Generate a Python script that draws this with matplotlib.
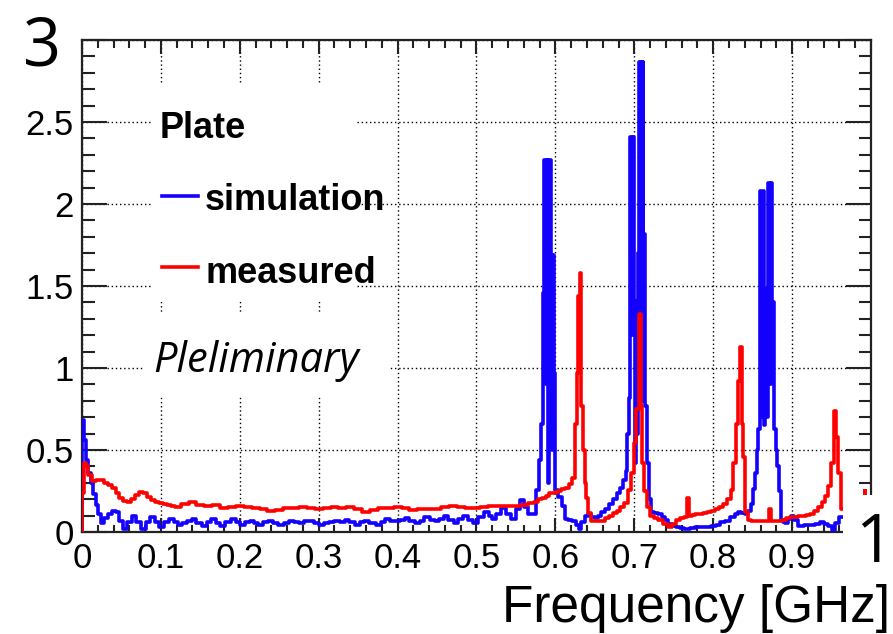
import matplotlib
matplotlib.use("Agg")
import matplotlib.pyplot as plt
from matplotlib.patches import Rectangle
from matplotlib.ticker import MultipleLocator

# measured (red) spectrum: frequency [GHz] and amplitude
meas_freq = [0.000, 0.001, 0.003, 0.006, 0.010, 0.015, 0.020, 0.025, 0.030, 0.035,
             0.040, 0.045, 0.050, 0.055, 0.060, 0.065, 0.070, 0.075, 0.080, 0.085,
             0.090, 0.095, 0.100, 0.105, 0.110, 0.115, 0.120, 0.130, 0.140, 0.150,
             0.160, 0.170, 0.180, 0.190, 0.200, 0.210, 0.220, 0.230, 0.240, 0.250,
             0.260, 0.270, 0.280, 0.290, 0.300, 0.310, 0.320, 0.330, 0.340, 0.350,
             0.360, 0.370, 0.380, 0.390, 0.400, 0.410, 0.420, 0.430, 0.440, 0.450,
             0.460, 0.470, 0.480, 0.490, 0.500, 0.510, 0.520, 0.530, 0.540, 0.550,
             0.560, 0.570, 0.575, 0.580, 0.585, 0.590, 0.595, 0.600, 0.605, 0.610,
             0.615, 0.620, 0.623, 0.626, 0.628, 0.630, 0.632, 0.634, 0.636, 0.638,
             0.640, 0.643, 0.646, 0.650, 0.655, 0.660, 0.665, 0.670, 0.675, 0.680,
             0.685, 0.690, 0.694, 0.698, 0.701, 0.704, 0.707, 0.709, 0.711, 0.714,
             0.718, 0.722, 0.727, 0.733, 0.740, 0.745, 0.750, 0.755, 0.760, 0.765,
             0.768, 0.771, 0.775, 0.780, 0.785, 0.790, 0.795, 0.800, 0.805, 0.810,
             0.815, 0.820, 0.824, 0.827, 0.830, 0.833, 0.835, 0.837, 0.839, 0.842,
             0.845, 0.850, 0.855, 0.860, 0.865, 0.870, 0.872, 0.875, 0.880, 0.885,
             0.890, 0.895, 0.900, 0.905, 0.910, 0.915, 0.920, 0.925, 0.930, 0.935,
             0.940, 0.944, 0.948, 0.951, 0.954, 0.957, 0.960, 0.963]
meas_vals = [0.00, 0.24, 0.42, 0.40, 0.35, 0.31, 0.32, 0.32, 0.30, 0.285,
             0.27, 0.24, 0.21, 0.19, 0.185, 0.20, 0.225, 0.245, 0.235, 0.215,
             0.195, 0.185, 0.175, 0.17, 0.165, 0.16, 0.155, 0.17, 0.185, 0.165,
             0.16, 0.165, 0.145, 0.15, 0.16, 0.15, 0.145, 0.14, 0.13, 0.135,
             0.145, 0.145, 0.155, 0.145, 0.14, 0.145, 0.15, 0.145, 0.15, 0.14,
             0.125, 0.135, 0.145, 0.145, 0.15, 0.145, 0.135, 0.14, 0.14, 0.14,
             0.155, 0.16, 0.155, 0.145, 0.145, 0.15, 0.16, 0.16, 0.16, 0.16,
             0.165, 0.175, 0.185, 0.20, 0.21, 0.22, 0.235, 0.24, 0.25, 0.26,
             0.27, 0.29, 0.33, 0.66, 0.97, 1.44, 1.58, 0.77, 0.50, 0.30,
             0.21, 0.115, 0.065, 0.065, 0.065, 0.07, 0.085, 0.10, 0.115, 0.13,
             0.15, 0.175, 0.255, 0.36, 0.54, 0.75, 1.33, 0.77, 0.42, 0.25,
             0.15, 0.10, 0.085, 0.075, 0.05, 0.03, 0.05, 0.075, 0.085, 0.09,
             0.21, 0.10, 0.105, 0.11, 0.11, 0.115, 0.12, 0.13, 0.14, 0.155,
             0.17, 0.20, 0.255, 0.42, 0.66, 0.92, 1.13, 0.66, 0.46, 0.12,
             0.075, 0.065, 0.065, 0.065, 0.065, 0.065, 0.14, 0.065, 0.065, 0.07,
             0.075, 0.085, 0.09, 0.09, 0.095, 0.10, 0.105, 0.11, 0.13, 0.155,
             0.18, 0.22, 0.28, 0.42, 0.74, 0.58, 0.36, 0.14]

# simulation (blue) spectrum
sim_freq = [0.000, 0.001, 0.003, 0.006, 0.010, 0.013, 0.016, 0.019, 0.022, 0.025,
            0.030, 0.035, 0.040, 0.045, 0.050, 0.055, 0.060, 0.066, 0.072, 0.078,
            0.084, 0.089, 0.095, 0.101, 0.107, 0.114, 0.119, 0.124, 0.130, 0.136,
            0.142, 0.148, 0.155, 0.161, 0.167, 0.172, 0.178, 0.185, 0.192, 0.198,
            0.203, 0.210, 0.216, 0.221, 0.226, 0.233, 0.239, 0.245, 0.252, 0.259,
            0.266, 0.272, 0.279, 0.285, 0.291, 0.298, 0.304, 0.310, 0.316, 0.324,
            0.330, 0.336, 0.342, 0.349, 0.355, 0.360, 0.368, 0.376, 0.381, 0.387,
            0.394, 0.400, 0.406, 0.412, 0.418, 0.425, 0.431, 0.437, 0.444, 0.450,
            0.456, 0.461, 0.468, 0.474, 0.480, 0.486, 0.493, 0.499, 0.506, 0.514,
            0.518, 0.522, 0.528, 0.535, 0.541, 0.547, 0.553, 0.558, 0.563, 0.568,
            0.573, 0.577, 0.581, 0.583, 0.585, 0.587, 0.589, 0.590, 0.592, 0.593,
            0.595, 0.596, 0.597, 0.599, 0.601, 0.606, 0.610, 0.614, 0.619, 0.623,
            0.628, 0.631, 0.635, 0.639, 0.643, 0.648, 0.652, 0.656, 0.660, 0.665,
            0.670, 0.675, 0.680, 0.684, 0.688, 0.690, 0.692, 0.694, 0.696, 0.698,
            0.699, 0.701, 0.702, 0.703, 0.704, 0.705, 0.707, 0.708, 0.709, 0.710,
            0.711, 0.712, 0.714, 0.717, 0.720, 0.723, 0.728, 0.733, 0.737, 0.741,
            0.745, 0.750, 0.755, 0.760, 0.767, 0.775, 0.780, 0.787, 0.795, 0.800,
            0.806, 0.812, 0.818, 0.825, 0.830, 0.833, 0.838, 0.843, 0.846, 0.849,
            0.852, 0.854, 0.856, 0.858, 0.860, 0.862, 0.863, 0.865, 0.867, 0.869,
            0.871, 0.873, 0.874, 0.876, 0.878, 0.880, 0.882, 0.884, 0.887, 0.890,
            0.893, 0.897, 0.900, 0.905, 0.911, 0.918, 0.926, 0.932, 0.939, 0.943,
            0.947, 0.953, 0.957, 0.963]
sim_vals = [0.00, 0.68, 0.56, 0.44, 0.36, 0.30, 0.23, 0.165, 0.11, 0.055,
            0.085, 0.11, 0.13, 0.12, 0.07, 0.02, 0.06, 0.10, 0.06, 0.02,
            0.06, 0.09, 0.06, 0.03, 0.06, 0.08, 0.06, 0.04, 0.055, 0.07,
            0.08, 0.055, 0.035, 0.06, 0.08, 0.055, 0.035, 0.06, 0.08, 0.06,
            0.04, 0.06, 0.07, 0.055, 0.045, 0.06, 0.07, 0.055, 0.045, 0.055,
            0.065, 0.06, 0.055, 0.065, 0.07, 0.055, 0.045, 0.055, 0.06, 0.07,
            0.06, 0.075, 0.06, 0.045, 0.06, 0.07, 0.055, 0.04, 0.06, 0.08,
            0.07, 0.065, 0.075, 0.085, 0.07, 0.055, 0.07, 0.09, 0.075, 0.065,
            0.08, 0.10, 0.075, 0.055, 0.08, 0.10, 0.075, 0.055, 0.09, 0.12,
            0.10, 0.08, 0.11, 0.145, 0.11, 0.08, 0.14, 0.195, 0.15, 0.11,
            0.11, 0.255, 0.44, 0.66, 1.46, 2.27, 0.90, 2.27, 0.30, 2.27,
            1.69, 0.50, 1.69, 0.97, 0.255, 0.215, 0.16, 0.08, 0.075, 0.07,
            0.04, 0.02, 0.06, 0.10, 0.11, 0.09, 0.085, 0.10, 0.12, 0.14,
            0.17, 0.20, 0.235, 0.27, 0.32, 0.37, 0.60, 0.82, 2.41, 1.20,
            2.41, 1.41, 0.42, 1.41, 0.60, 1.70, 2.865, 1.00, 2.865, 0.80,
            2.865, 1.82, 0.77, 0.42, 0.20, 0.12, 0.115, 0.11, 0.09, 0.075,
            0.05, 0.035, 0.03, 0.025, 0.02, 0.025, 0.03, 0.03, 0.03, 0.035,
            0.045, 0.06, 0.07, 0.09, 0.11, 0.12, 0.115, 0.11, 0.13, 0.17,
            0.26, 0.36, 0.50, 0.63, 2.08, 0.70, 2.08, 0.65, 1.48, 0.70,
            2.13, 0.90, 2.13, 1.40, 0.63, 0.50, 0.40, 0.25, 0.075, 0.06,
            0.055, 0.08, 0.10, 0.075, 0.035, 0.04, 0.045, 0.05, 0.06, 0.05,
            0.035, 0.015, 0.055, 0.09]

x_ticks = [0, 0.1, 0.2, 0.3, 0.4, 0.5, 0.6, 0.7, 0.8, 0.9, 1.0]
x_labels = ["0", "0.1", "0.2", "0.3", "0.4", "0.5", "0.6", "0.7", "0.8", "0.9", ""]
y_ticks = [0, 0.5, 1, 1.5, 2, 2.5, 3]
y_labels = ["0", "0.5", "1", "1.5", "2", "2.5", ""]

W, H = 893, 634
fig = plt.figure(figsize=(W / 100, H / 100), dpi=100)
ax = fig.add_axes([82 / W, 1 - 532 / H, 789 / W, 492 / H])

ax.plot(sim_freq, sim_vals, color="#1400ff", lw=2.6, drawstyle="steps-mid", zorder=3)
ax.plot(meas_freq, meas_vals, color="#ff0000", lw=2.6, drawstyle="steps-mid", zorder=4)

ax.set_xlim(0, 1)
ax.set_ylim(0, 3)
ax.set_xticks(x_ticks)
ax.set_xticklabels(x_labels)
ax.set_yticks(y_ticks)
ax.set_yticklabels(y_labels)
ax.xaxis.set_minor_locator(MultipleLocator(0.02))
ax.yaxis.set_minor_locator(MultipleLocator(0.1))

for lbl in ax.get_xticklabels() + ax.get_yticklabels():
    lbl.set_fontfamily("Liberation Sans")
    lbl.set_fontsize(25)

ax.tick_params(which="both", direction="in", top=True, right=True, color="#222222", width=1.5)
ax.tick_params(axis="x", which="major", length=10, pad=7)
ax.tick_params(axis="x", which="minor", length=5.4)
ax.tick_params(axis="y", which="major", length=18, pad=6)
ax.tick_params(axis="y", which="minor", length=9)
for sp in ax.spines.values():
    sp.set_linewidth(1.6)
    sp.set_color("#222222")

ax.grid(True, which="major", color="black", lw=1.0, linestyle=(0, (1, 2)))
ax.set_axisbelow(True)

# white boxes behind the legend and the preliminary note
ax.add_patch(Rectangle((0.090, 1.415), 0.2585, 1.311, facecolor="white",
                       edgecolor="none", zorder=2))
ax.add_patch(Rectangle((0.080, 0.835), 0.31, 0.505, facecolor="white",
                       edgecolor="none", zorder=2))

# legend
ax.text(0.0989, 2.40, "Plate", fontfamily="Liberation Sans", fontweight="bold",
        fontsize=26, zorder=5)
ax.plot([0.101, 0.147], [2.049, 2.049], color="#1400ff", lw=2.6, zorder=5)
ax.text(0.156, 1.963, "simulation", fontfamily="Liberation Sans", fontweight="bold",
        fontsize=26, zorder=5)
ax.plot([0.101, 0.147], [1.616, 1.616], color="#ff0000", lw=2.6, zorder=5)
ax.text(0.156, 1.518, "measured", fontfamily="Liberation Sans", fontweight="bold",
        fontsize=26, zorder=5)
ax.text(0.090, 0.976, "Pleliminary", fontfamily="Open Sans", fontstyle="italic",
        fontsize=30, zorder=5)

# lower right corner patch with the large "1" and the big "3" at the top
fig.patches.append(Rectangle((843 / W, 0), 50 / W, (H - 495) / H, facecolor="white",
                             edgecolor="none", transform=fig.transFigure, zorder=5))
fig.patches.append(Rectangle((863 / W, 1 - 495 / H), 4 / W, 6 / H, facecolor="#ff0000",
                             edgecolor="none", transform=fig.transFigure, zorder=6))
fig.text(874 / W, 1 - 562 / H, "1", fontfamily="Open Sans", fontsize=48,
         ha="center", va="baseline", zorder=7)
fig.text(42 / W, 1 - 65 / H, "3", fontfamily="Open Sans", fontsize=48,
         ha="center", va="baseline", zorder=7)
fig.text(890 / W, 1 - 622 / H, "Frequency [GHz]", fontfamily="Liberation Sans",
         fontsize=37, ha="right", va="baseline", zorder=7)

fig.savefig("out.png", dpi=100)
